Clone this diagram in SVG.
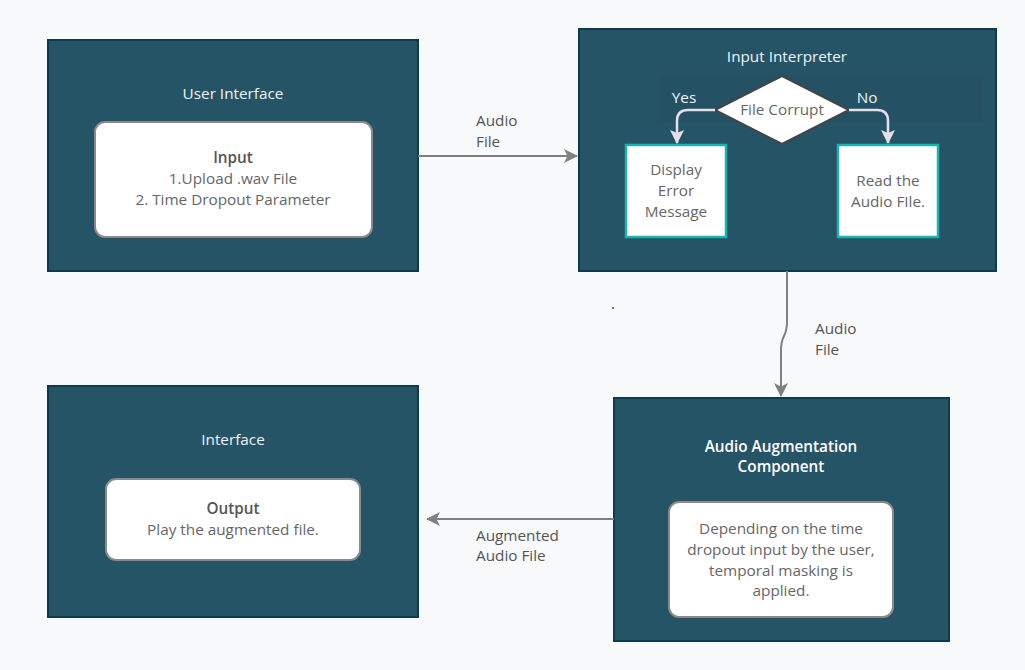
<svg xmlns="http://www.w3.org/2000/svg" width="1025" height="670" viewBox="0 0 1025 670">
<style>
text{font-family:"Open Sans","Noto Sans","Liberation Sans",sans-serif;font-size:15.3px;text-anchor:middle;dominant-baseline:central}
.panel{fill:#265467;stroke:#0f3a4b;stroke-width:2}
.title{fill:#eef3f5}
.btitle{fill:#ffffff;font-weight:600}
.card{fill:#ffffff;stroke:#8a8a8a;stroke-width:2}
.dark{fill:#666666}
.bold{fill:#555555;font-weight:600}
.step{fill:#ffffff;stroke:#1bb3ad;stroke-width:2.5}
.lbl{fill:#555555;text-anchor:start}
.conn{fill:none;stroke:#808080;stroke-width:2}
.inner{fill:none;stroke:#e6dfe8;stroke-width:2.5}
</style>
<defs>
<marker id="ah" viewBox="0 0 14 14" refX="13" refY="7" markerWidth="14" markerHeight="14" markerUnits="userSpaceOnUse" orient="auto">
<path d="M0,0 L14,7 L0,14 L3.5,7 Z" fill="#808080"/>
</marker>
<marker id="ahw" viewBox="0 0 14 14" refX="13" refY="7" markerWidth="14" markerHeight="14" markerUnits="userSpaceOnUse" orient="auto">
<path d="M0,0 L14,7 L0,14 L3,7 Z" fill="#e6dfe8"/>
</marker>
</defs>
<rect width="1025" height="670" fill="#f8f9fb"/>

<g id="user-interface">
<rect class="panel" x="48" y="40" width="370" height="231"/>
<text class="title" x="233" y="93">User Interface</text>
<rect class="card" x="95" y="122" width="277" height="115" rx="10"/>
<text class="bold" x="233" y="157">Input</text>
<text class="dark" x="233" y="178">1.Upload .wav File</text>
<text class="dark" x="233" y="199">2. Time Dropout Parameter</text>
</g>

<g id="input-interpreter">
<rect class="panel" x="579" y="29" width="417" height="242"/>
<text class="title" x="787" y="56">Input Interpreter</text>
<rect x="660" y="75" width="323" height="47" fill="#000000" opacity="0.035"/>
</g>

<g id="file-corrupt">
<polygon points="715,110 782,76 849,110 782,144" fill="#ffffff" stroke="#444444" stroke-width="2"/>
<text class="dark" x="782" y="109">File Corrupt</text>
</g>

<g id="display-error">
<rect class="step" x="626" y="145" width="100" height="92"/>
<text class="dark" x="676" y="169">Display</text>
<text class="dark" x="676" y="190">Error</text>
<text class="dark" x="676" y="211">Message</text>
</g>

<g id="read-audio">
<rect class="step" x="838" y="145" width="100" height="92"/>
<text class="dark" x="888" y="180">Read the</text>
<text class="dark" x="888" y="201">Audio FIle.</text>
</g>

<g id="audio-augmentation">
<rect class="panel" x="614" y="398" width="335" height="243"/>
<text class="btitle" x="781" y="446">Audio Augmentation</text>
<text class="btitle" x="781" y="466">Component</text>
<rect class="card" x="669" y="502" width="224" height="115" rx="10"/>
<text class="dark" x="781" y="528">Depending on the time</text>
<text class="dark" x="781" y="549">dropout input by the user,</text>
<text class="dark" x="781" y="570">temporal masking is</text>
<text class="dark" x="781" y="590">applied.</text>
</g>

<g id="interface">
<rect class="panel" x="48" y="386" width="370" height="231"/>
<text class="title" x="233" y="439">Interface</text>
<rect class="card" x="106" y="479" width="254" height="81" rx="10"/>
<text class="bold" x="233" y="508">Output</text>
<text class="dark" x="233" y="529">Play the augmented file.</text>
</g>

<g id="connectors">
<path class="conn" d="M418,156 L577,156" marker-end="url(#ah)"/>
<text class="lbl" x="476" y="120">Audio</text>
<text class="lbl" x="476" y="141">File</text>

<path class="inner" d="M715,110 L688,110 Q677,110 677,121 L677,143" marker-end="url(#ahw)"/>
<text class="title" x="684" y="97">Yes</text>
<path class="inner" d="M849,110 L877,110 Q888,110 888,121 L888,143" marker-end="url(#ahw)"/>
<text class="title" x="867" y="97">No</text>

<path class="conn" d="M787,271 L787,322 Q787,330 784,336 Q781,342 781,350 L781,396" marker-end="url(#ah)"/>
<text class="lbl" x="815" y="328">Audio</text>
<text class="lbl" x="815" y="349">File</text>

<path class="conn" d="M614,519 L427,519" marker-end="url(#ah)"/>
<text class="lbl" x="476" y="535">Augmented</text>
<text class="lbl" x="476" y="555">Audio File</text>
</g>
<circle cx="613" cy="308" r="1" fill="#555555"/>
</svg>
